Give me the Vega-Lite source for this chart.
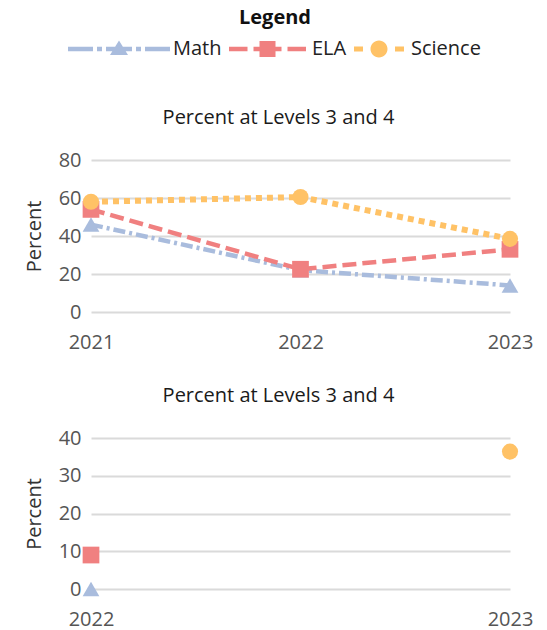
{
  "$schema": "https://vega.github.io/schema/vega-lite/v6.json",
  "padding": {"left": 24, "top": 8, "right": 10, "bottom": 4},
  "datasets": {
    "top": [
      {"year": "2021", "subject": "Math", "percent": 46},
      {"year": "2022", "subject": "Math", "percent": 22},
      {"year": "2023", "subject": "Math", "percent": 14},
      {"year": "2021", "subject": "ELA", "percent": 54},
      {"year": "2022", "subject": "ELA", "percent": 22.5},
      {"year": "2023", "subject": "ELA", "percent": 33},
      {"year": "2021", "subject": "Science", "percent": 58},
      {"year": "2022", "subject": "Science", "percent": 60.5},
      {"year": "2023", "subject": "Science", "percent": 38.5}
    ],
    "bottom": [
      {"year": "2022", "subject": "Math", "percent": 0},
      {"year": "2022", "subject": "ELA", "percent": 9},
      {"year": "2023", "subject": "Science", "percent": 36.4}
    ]
  },
  "config": {
    "font": "Open Sans",
    "view": {"stroke": null},
    "axis": {
      "labelFont": "Open Sans",
      "labelFontSize": 20,
      "labelColor": "#555555",
      "titleFont": "Open Sans",
      "titleFontSize": 20,
      "titleFontWeight": "normal",
      "titleColor": "#333333",
      "gridColor": "#dadada",
      "gridWidth": 2,
      "domain": false,
      "ticks": false
    },
    "title": {
      "font": "Open Sans",
      "fontSize": 20,
      "fontWeight": "normal",
      "color": "#1a1a1a",
      "anchor": "middle",
      "frame": "bounds",
      "offset": 22
    }
  },
  "spacing": 34,
  "resolve": {"scale": {"x": "independent", "y": "independent"}},
  "vconcat": [
    {
      "title": "Percent at Levels 3 and 4",
      "width": 419,
      "height": 152,
      "data": {"name": "top"},
      "encoding": {
        "x": {"field": "year", "type": "ordinal", "scale": {"type": "point", "padding": 0},
              "axis": {"title": null, "labelAngle": 0, "grid": false, "labelPadding": 20}},
        "y": {"field": "percent", "type": "quantitative", "scale": {"domain": [0, 80]},
              "axis": {"title": "Percent", "values": [0, 20, 40, 60, 80], "grid": true, "labelPadding": 10, "titlePadding": 14}}
      },
      "layer": [
        {
          "mark": {"type": "point", "filled": true, "opacity": 0, "size": 0},
          "encoding": {
            "color": {
              "field": "subject", "type": "nominal",
              "scale": {"domain": ["Math", "ELA", "Science"], "range": ["#a9bcdd", "#f08080", "#ffc266"]},
              "legend": {
                "title": "Legend",
                "orient": "none",
                "legendX": 51,
                "legendY": -152,
                "direction": "horizontal",
                "titleAnchor": "middle",
                "titleAlign": "right",
                "titleFont": "Open Sans",
                "titleFontSize": 20,
                "titleFontWeight": "bold",
                "titleColor": "#111111",
                "titlePadding": 11,
                "labelFont": "Open Sans",
                "labelFontSize": 20,
                "labelColor": "#222222",
                "labelOffset": 11,
                "columnPadding": 7,
                "symbolSize": 400,
                "symbolStrokeWidth": 0,
                "symbolOpacity": 1
              }
            },
            "shape": {
              "field": "subject", "type": "nominal",
              "scale": {"domain": ["Math", "ELA", "Science"],
                        "range": [
                          "M-8.4,-0.22H-5.9V0.22H-8.4Z M-5.5,-0.22H-5V0.22H-5.5Z M-4.6,-0.22H-2V0.22H-4.6Z M-1.6,-0.22H-1.1V0.22H-1.6Z M-0.7,-0.22H1.8V0.22H-0.7Z M-3.3,-0.85L-2.4,0.6L-4.2,0.6Z",
                          "M-6.2,-0.22H-4.35V0.22H-6.2Z M-3.75,-0.22H-0.95V0.22H-3.75Z M-0.35,-0.22H1.5V0.22H-0.35Z M-3.15,-0.8H-1.55V0.8H-3.15Z",
                          "M-3.6,-0.25H-2.7V0.25H-3.6Z M0.5,-0.25H1.4V0.25H0.5Z M-1.95,0A0.85,0.85 0 1,0 -0.25,0A0.85,0.85 0 1,0 -1.95,0Z"
                        ]},
              "legend": {
                "title": "Legend",
                "orient": "none",
                "legendX": 51,
                "legendY": -152,
                "direction": "horizontal",
                "titleAnchor": "middle",
                "titleAlign": "right",
                "titleFont": "Open Sans",
                "titleFontSize": 20,
                "titleFontWeight": "bold",
                "titleColor": "#111111",
                "titlePadding": 11,
                "labelFont": "Open Sans",
                "labelFontSize": 20,
                "labelColor": "#222222",
                "labelOffset": 11,
                "columnPadding": 7,
                "symbolSize": 400,
                "symbolStrokeWidth": 0,
                "symbolOpacity": 1
              }
            }
          }
        },
        {"transform": [{"filter": "datum.subject === 'Math'"}],
         "mark": {"type": "line", "strokeDash": [12, 4, 3, 4], "strokeWidth": 4.5},
         "encoding": {"color": {"field": "subject", "type": "nominal"}}},
        {"transform": [{"filter": "datum.subject === 'ELA'"}],
         "mark": {"type": "line", "strokeDash": [14, 6], "strokeWidth": 4.5},
         "encoding": {"color": {"field": "subject", "type": "nominal"}}},
        {"transform": [{"filter": "datum.subject === 'Science'"}],
         "mark": {"type": "line", "strokeDash": [6, 5], "strokeWidth": 6},
         "encoding": {"color": {"field": "subject", "type": "nominal"}}},
        {"transform": [{"filter": "datum.subject === 'Math'"}],
         "mark": {"type": "point", "shape": "triangle-up", "filled": true, "opacity": 1, "size": 280},
         "encoding": {"color": {"field": "subject", "type": "nominal"}}},
        {"transform": [{"filter": "datum.subject === 'ELA'"}],
         "mark": {"type": "point", "shape": "square", "filled": true, "opacity": 1, "size": 280},
         "encoding": {"color": {"field": "subject", "type": "nominal"}}},
        {"transform": [{"filter": "datum.subject === 'Science'"}],
         "mark": {"type": "point", "shape": "circle", "filled": true, "opacity": 1, "size": 260},
         "encoding": {"color": {"field": "subject", "type": "nominal"}}}
      ]
    },
    {
      "title": "Percent at Levels 3 and 4",
      "width": 419,
      "height": 151,
      "data": {"name": "bottom"},
      "encoding": {
        "x": {"field": "year", "type": "ordinal", "scale": {"type": "point", "padding": 0},
              "axis": {"title": null, "labelAngle": 0, "grid": false, "labelPadding": 20}},
        "y": {"field": "percent", "type": "quantitative", "scale": {"domain": [0, 40]},
              "axis": {"title": "Percent", "values": [0, 10, 20, 30, 40], "grid": true, "labelPadding": 10, "titlePadding": 14}},
        "color": {"field": "subject", "type": "nominal"}
      },
      "layer": [
        {"transform": [{"filter": "datum.subject === 'Math'"}],
         "mark": {"type": "point", "shape": "triangle-up", "filled": true, "opacity": 1, "size": 280}},
        {"transform": [{"filter": "datum.subject === 'ELA'"}],
         "mark": {"type": "point", "shape": "square", "filled": true, "opacity": 1, "size": 280}},
        {"transform": [{"filter": "datum.subject === 'Science'"}],
         "mark": {"type": "point", "shape": "circle", "filled": true, "opacity": 1, "size": 260}}
      ]
    }
  ]
}
